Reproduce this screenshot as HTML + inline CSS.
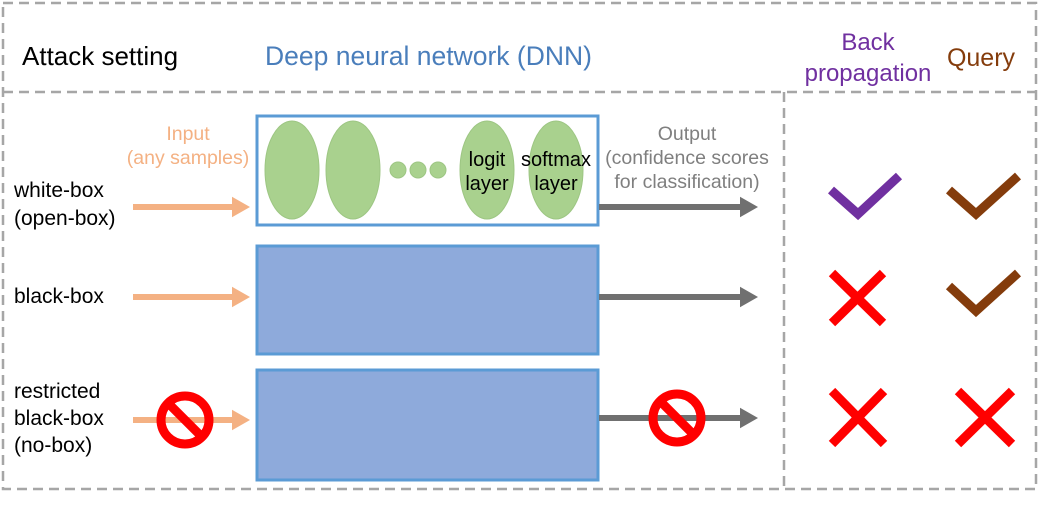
<!DOCTYPE html>
<html><head><style>body{margin:0;background:#fff}svg{display:block}text{font-family:"Liberation Sans",sans-serif}</style></head><body>
<svg width="1040" height="511" viewBox="0 0 1040 511" xmlns="http://www.w3.org/2000/svg">
<defs>
<marker id="ao" markerWidth="4" markerHeight="4" refX="2" refY="2" orient="auto" markerUnits="strokeWidth"><path d="M0,0.3 L3,2 L0,3.7Z" fill="#f4b183"/></marker>
<marker id="ag" markerWidth="4" markerHeight="4" refX="2" refY="2" orient="auto" markerUnits="strokeWidth"><path d="M0,0.3 L3,2 L0,3.7Z" fill="#707070"/></marker>
</defs>
<g stroke="#a6a6a6" stroke-width="2.5" stroke-dasharray="10,6" fill="none">
<rect x="3" y="3" width="1033" height="486"/>
<line x1="3" y1="92" x2="1036" y2="92"/>
<line x1="784" y1="92" x2="784" y2="489"/>
</g>
<text x="22" y="65" font-size="26" fill="#000">Attack setting</text>
<text x="265" y="65" font-size="26.5" fill="#4a7ebb">Deep neural network (DNN)</text>
<text x="868" y="50" font-size="24" fill="#7030a0" text-anchor="middle">Back</text>
<text x="868" y="81" font-size="24" fill="#7030a0" text-anchor="middle">propagation</text>
<text x="981" y="66" font-size="25" fill="#843c0c" text-anchor="middle">Query</text>
<g font-size="21" fill="#000">
<text x="14" y="197">white-box</text><text x="14" y="225">(open-box)</text>
<text x="14" y="303">black-box</text>
<text x="14" y="398">restricted</text><text x="14" y="425">black-box</text><text x="14" y="452">(no-box)</text>
</g>
<text x="188" y="140" font-size="19.5" fill="#f4b183" text-anchor="middle">Input</text>
<text x="188" y="164" font-size="19.5" fill="#f4b183" text-anchor="middle">(any samples)</text>
<text x="687" y="140" font-size="19.5" fill="#7f7f7f" text-anchor="middle">Output</text>
<text x="687" y="164" font-size="19.5" fill="#7f7f7f" text-anchor="middle">(confidence scores</text>
<text x="687" y="188" font-size="19.5" fill="#7f7f7f" text-anchor="middle">for classification)</text>
<rect x="257" y="116" width="341" height="109" fill="#fff" stroke="#5b9bd5" stroke-width="3"/>
<rect x="257" y="246" width="341" height="108" fill="#8eaadb" stroke="#5b9bd5" stroke-width="3"/>
<rect x="257" y="370" width="341" height="110" fill="#8eaadb" stroke="#5b9bd5" stroke-width="3"/>
<g fill="#a9d18e" stroke="#9dc683">
<ellipse cx="292" cy="170" rx="27" ry="49"/><ellipse cx="353" cy="170" rx="27" ry="49"/>
<circle cx="398" cy="170" r="8"/><circle cx="418" cy="170" r="8"/><circle cx="438" cy="170" r="8"/>
<ellipse cx="487" cy="170" rx="27" ry="49"/><ellipse cx="556" cy="170" rx="27" ry="49"/>
</g>
<g font-size="20" fill="#000" text-anchor="middle">
<text x="487" y="166">logit</text><text x="487" y="190">layer</text>
<text x="556" y="166">softmax</text><text x="556" y="190">layer</text>
</g>
<g stroke="#f4b183" stroke-width="6" marker-end="url(#ao)">
<line x1="133" y1="207" x2="244" y2="207"/><line x1="133" y1="297" x2="244" y2="297"/><line x1="133" y1="420" x2="244" y2="420"/>
</g>
<g stroke="#707070" stroke-width="6" marker-end="url(#ag)">
<line x1="599" y1="207" x2="752" y2="207"/><line x1="599" y1="297" x2="752" y2="297"/><line x1="599" y1="418" x2="752" y2="418"/>
</g>
<g stroke="#ff0000" fill="none" stroke-width="9">
<circle cx="185" cy="420" r="24"/><line x1="168" y1="403" x2="202" y2="437"/>
<circle cx="677" cy="418" r="24"/><line x1="660" y1="401" x2="694" y2="435"/>
</g>
<path d="M831,190 L858,214 L899,176" stroke="#7030a0" stroke-width="9" fill="none"/>
<path d="M949,190 L976,214 L1018,176" stroke="#843c0c" stroke-width="9" fill="none"/>
<path d="M949,286 L976,311 L1018,273" stroke="#843c0c" stroke-width="9" fill="none"/>
<g stroke="#ff0000" stroke-width="9">
<line x1="832" y1="273" x2="883" y2="323"/><line x1="883" y1="273" x2="832" y2="323"/>
<line x1="832" y1="391" x2="884" y2="444"/><line x1="884" y1="391" x2="832" y2="444"/>
<line x1="958" y1="391" x2="1012" y2="444"/><line x1="1012" y1="391" x2="958" y2="444"/>
</g>
</svg>
</body></html>
